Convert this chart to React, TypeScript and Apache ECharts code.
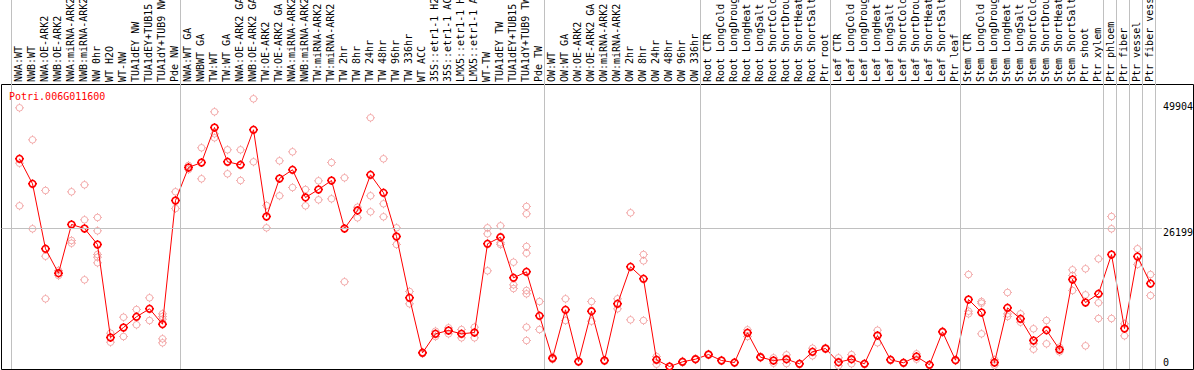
import React, { useEffect, useRef } from 'react';
import * as echarts from 'echarts';

const geneId = 'Potri.006G011600';

const categories = [
  'NWA:WT', 'NWB:WT', 'NWA:OE-ARK2', 'NWB:OE-ARK2', 'NWA:miRNA-ARK2', 'NWB:miRNA-ARK2', 'NW 0hr', 'WT H2O', 'WT-NW',
  'TUA1dEY NW', 'TUA1dEY+TUB15 NW', 'TUA1dY+TUB9 NW', 'Pde NW',
  'NWA:WT GA', 'NWBWT GA', 'TW:WT', 'TW:WT GA', 'NWA:OE-ARK2 GA', 'NWB:OE-ARK2 GA', 'TW:OE-ARK2', 'TW:OE-ARK2 GA',
  'NWA:miRNA-ARK2', 'NWB:miRNA-ARK2', 'TW:miRNA-ARK2', 'TW:miRNA-ARK2 GA',
  'TW 2hr', 'TW 8hr', 'TW 24hr', 'TW 48hr', 'TW 96hr', 'TW 336hr', 'WT ACC',
  '35S::etr1-1 H2O', '35S::etr1-1 ACC', 'LMX5::etr1-1 H2O', 'LMX5::etr1-1 ACC', 'WT-TW',
  'TUA1dEY TW', 'TUA1dEY+TUB15 TW', 'TUA1dY+TUB9 TW', 'Pde TW',
  'OW:WT', 'OW:WT GA', 'OW:OE-ARK2', 'OW:OE-ARK2 GA', 'OW:miRNA-ARK2', 'OW:miRNA-ARK2 GA',
  'OW 2hr', 'OW 8hr', 'OW 24hr', 'OW 48hr', 'OW 96hr', 'OW 336hr',
  'Root CTR', 'Root LongCold', 'Root LongDrought', 'Root LongHeat', 'Root LongSalt',
  'Root ShortCold', 'Root ShortDrought', 'Root ShortHeat', 'Root ShortSalt', 'Ptr root',
  'Leaf CTR', 'Leaf LongCold', 'Leaf LongDrought', 'Leaf LongHeat', 'Leaf LongSalt',
  'Leaf ShortCold', 'Leaf ShortDrought', 'Leaf ShortHeat', 'Leaf ShortSalt', 'Ptr leaf',
  'Stem CTR', 'Stem LongCold', 'Stem LongDrought', 'Stem LongHeat', 'Stem LongSalt',
  'Stem ShortCold', 'Stem ShortDrought', 'Stem ShortHeat', 'Stem ShortSalt', 'Ptr shoot',
  'Ptr xylem', 'Ptr phloem', 'Ptr fiber', 'Ptr vessel', 'Ptr fiber vessel',
];

// category index at which each separated group starts (last = end)
const groupStarts = [0, 13, 41, 53, 63, 73, 84, 85, 86, 87, 88];

const means = [
  39340, 34630, 22380, 17780, 26960, 26200, 23190, 5660, 7540, 9560,
  11070, 8160, 31480, 37700, 38640, 45240, 38770, 38210, 44810, 28460,
  35630, 37270, 32050, 33550, 35250, 26200, 29600, 36320, 32930, 24690,
  13140, 2770, 6350, 6980, 6350, 6600, 23320, 24560, 16910, 18040,
  9750, 1750, 10880, 1130, 10610, 1320, 12010, 18980, 16720, 1450,
  190, 1070, 1570, 2450, 1320, 940, 6540, 1940, 1320, 1570,
  700, 2960, 3580, 1000, 1570, 700, 6030, 1450, 890, 2070,
  510, 6730, 1380, 12820, 10370, 940, 11250, 9180, 5090, 7030,
  3390, 16590, 12250, 13890, 21300, 7350, 20920, 15830,
];

const replicates = [
  [48950, 38510, 30480], [42920, 26150], [33370, 20980, 12950], [18290, 17340], [33120, 23940, 23430],
  [34440, 27840, 16530], [28280, 25770, 21300, 20790, 19740], [6470, 4770], [9480, 5840], [10930, 8050],
  [13140, 8860], [10120, 9610, 9100, 5410, 4660], [33120, 29970], [38080, 37320], [41420, 35570],
  [48200, 44050, 43300], [41040, 36510], [41040, 35250], [50650, 38770], [30540, 26330],
  [38960, 32370], [40660, 33930], [33550, 30480], [35190, 31610], [38640, 31800],
  [35760, 16160], [30220, 28220], [47070, 32370, 29350], [39340, 30860, 28410], [26330, 23190],
  [14330, 12010], [2900, 2640], [6840, 5840], [7480, 6350], [7160, 5600],
  [7600, 5600], [26330, 25200, 18230], [26710, 23510, 23190], [19850, 15590, 14890],
  [30350, 28970, 22810, 21550, 14520, 13890, 7600, 5090],
  [12440, 7160], [1950, 1560], [12950, 8860], [1200, 1060], [12440, 8730],
  [1400, 1240], [12950, 11070], [29160, 8990], [21300, 20110, 8860], [2070, 620],
  [250, 130], [1200, 950], [1650, 1480], [2550, 2350], [1400, 1240],
  [1000, 880], [7110, 5840], [2050, 1830], [1830, 810], [2390, 740],
  [760, 630], [3640, 2210], [3700, 3460], [1830, 320], [2430, 700],
  [760, 630], [7030, 4660], [1530, 1370], [950, 820], [2580, 1570],
  [570, 450], [6850, 6610], [1450, 1300], [17530, 10610, 10120], [12440, 12120, 6350],
  [1450, 440], [14140, 10120, 9610], [10120, 8540], [7300, 4470, 3450], [8860, 4470],
  [3830, 2960], [18420, 17340, 14520], [18610, 13700, 4090], [20490, 12200, 9240], [28460, 26150, 9240],
  [8240, 5980], [22380, 19420], [17530, 13570],
];

const yTickValues = [0, 26199, 49904];
const gridlineValue = 26199;

const Y_MIN = -280;
const Y_MAX = 53250;
const MONO = '"DejaVu Sans Mono", monospace';
const MARKER =
  'path://M7.8 4.5A3.3 3.3 0 1 1 1.2 4.5A3.3 3.3 0 1 1 7.8 4.5Z M4.5 0L4.5 1.2M4.5 7.8L4.5 9M0 4.5L1.2 4.5M7.8 4.5L9 4.5';

export default function App() {
  const ref = useRef<HTMLDivElement>(null);

  useEffect(() => {
    if (!ref.current) return;
    const chart = echarts.init(ref.current, null, { renderer: 'svg' });
    const monoText = { fontFamily: MONO, fontSize: 10, color: '#000' };
    const g = { outerBoundsMode: 'none', containLabel: false };
    const option: any = {
      animation: false,
      backgroundColor: '#fff',
      title: {
        text: geneId,
        left: 9,
        top: 91,
        padding: 0,
        textStyle: { color: '#ff0000', fontSize: 10, fontFamily: MONO, fontWeight: 'normal' },
      },
      grid: [
        { ...g, left: 1.5, top: 84.5, width: 1192, height: 285, show: true, borderColor: '#000', borderWidth: 1, backgroundColor: 'transparent' },
        { ...g, left: 11.5, top: 0, width: 1144, height: 369 },
        { ...g, left: 13, top: 85, width: 1144, height: 284 },
        { ...g, left: 1.5, top: 85, width: 1160.5, height: 284 },
        { ...g, left: 11.5, top: 84, width: 1144, height: 285 },
      ],
      xAxis: [
        { gridIndex: 0, type: 'value', show: false, min: 0, max: 1 },
        { gridIndex: 4, type: 'category', data: categories, position: 'top', boundaryGap: true,
          axisLine: { show: false }, axisTick: { show: false }, splitLine: { show: false },
          axisLabel: { rotate: 90, interval: 0, margin: 2, ...monoText },
        },
        { gridIndex: 1, type: 'value', show: false, min: 0, max: categories.length },
        { gridIndex: 2, type: 'category', data: categories, show: false, boundaryGap: true },
        { gridIndex: 3, type: 'value', show: false, min: 0, max: 1 },
      ],
      yAxis: [
        { gridIndex: 0, type: 'value', show: false, min: 0, max: 1 },
        { gridIndex: 1, type: 'value', show: false, min: 0, max: 1 },
        { gridIndex: 2, type: 'value', show: false, min: Y_MIN, max: Y_MAX },
        {
          gridIndex: 3, type: 'value', min: Y_MIN, max: Y_MAX, position: 'right',
          axisLine: { show: false }, axisTick: { show: false }, splitLine: { show: false },
          axisLabel: {
            customValues: yTickValues,
            margin: 1,
            align: 'left',
            ...monoText,
            formatter: (v: number) => (v === 0 ? `{lo|${v}}` : `{hi|${v}}`),
            rich: {
              hi: { ...monoText, padding: [8, 0, 0, 0] },
              lo: { ...monoText, padding: [0, 0, 10, 0] },
            },
          },
        },
        { gridIndex: 4, type: 'value', show: false, min: 0, max: 1 },
      ],
      series: [
        {
          type: 'line', xAxisIndex: 2, yAxisIndex: 1, data: [], silent: true, z: 1,
          markLine: {
            silent: true, symbol: 'none', label: { show: false }, emphasis: { disabled: true },
            lineStyle: { color: '#c0c0c0', width: 1, type: 'solid' },
            data: groupStarts.map((k) => ({ xAxis: k })),
          },
        },
        {
          type: 'line', xAxisIndex: 4, yAxisIndex: 3, data: [], silent: true, z: 1,
          markLine: {
            silent: true, symbol: 'none', label: { show: false }, emphasis: { disabled: true },
            lineStyle: { color: '#c0c0c0', width: 1, type: 'solid' },
            data: [{ yAxis: gridlineValue }],
          },
        },
        {
          type: 'scatter', xAxisIndex: 3, yAxisIndex: 2, silent: true, z: 3,
          data: replicates.flatMap((r, i) => r.map((v) => [i, v])),
          symbol: MARKER, symbolSize: 9,
          itemStyle: { color: 'rgba(0,0,0,0)', borderColor: '#f09a9a', borderWidth: 1 },
        },
        {
          type: 'line', xAxisIndex: 3, yAxisIndex: 2, silent: true, z: 4, clip: false,
          data: means, symbol: MARKER, symbolSize: 9, showAllSymbol: true,
          lineStyle: { color: '#ff0000', width: 1 },
          itemStyle: { color: 'rgba(0,0,0,0)', borderColor: '#ff0000', borderWidth: 1.6 },
        },
      ],
    };
    chart.setOption(option);
    return () => chart.dispose();
  }, []);

  return (
    <div
      ref={ref}
      style={{ position: 'fixed', left: 0, top: 0, width: 1194, height: 370, background: '#fff' }}
    />
  );
}
